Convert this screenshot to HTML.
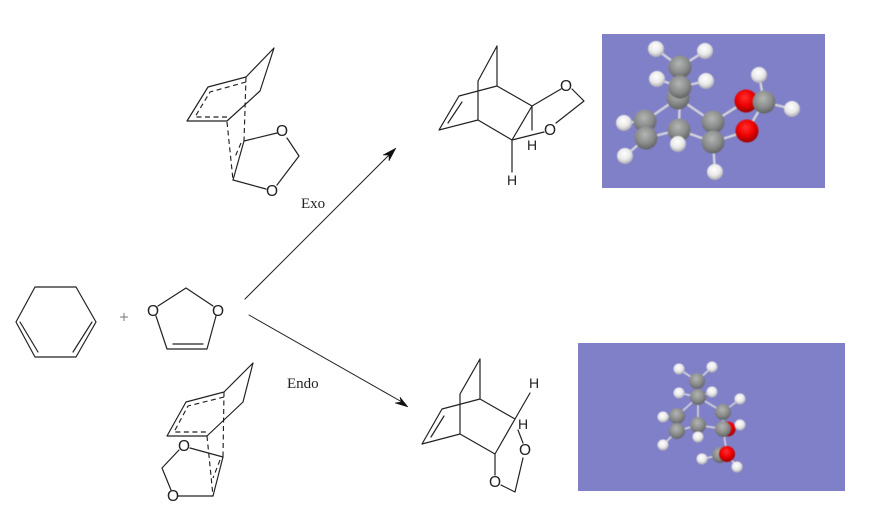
<!DOCTYPE html>
<html><head><meta charset="utf-8"><style>
html,body{margin:0;padding:0;background:#fff;width:871px;height:527px;overflow:hidden}
svg{display:block}
.m{font-family:"Liberation Sans",sans-serif;font-size:15.5px;fill:#222;text-anchor:middle}
.s{font-family:"Liberation Serif",serif;font-size:15px;fill:#222}
.l{stroke:#222;stroke-width:1.2;fill:none;stroke-linecap:round;stroke-linejoin:round}
.d{stroke:#222;stroke-width:1.15;fill:none;stroke-dasharray:5 3.5}
.b{stroke:#d4d4dc;stroke-width:2.4;fill:none}
.b2{stroke:#d4d4dc;stroke-width:1.7;fill:none}
.art{filter:blur(.25px)}
.mol{filter:blur(.5px)}
</style></head><body>
<svg width="871" height="527" viewBox="0 0 871 527" xmlns="http://www.w3.org/2000/svg">
<defs>
<radialGradient id="c" cx="45%" cy="35%" r="65%"><stop offset="0" stop-color="#b4b6b4"/><stop offset=".6" stop-color="#8a8c8c"/><stop offset="1" stop-color="#606264"/></radialGradient>
<radialGradient id="h" cx="45%" cy="35%" r="65%"><stop offset="0" stop-color="#ffffff"/><stop offset=".6" stop-color="#e8e8e8"/><stop offset="1" stop-color="#a9a9b0"/></radialGradient>
<radialGradient id="o" cx="45%" cy="35%" r="65%"><stop offset="0" stop-color="#ff3030"/><stop offset=".55" stop-color="#ee0000"/><stop offset="1" stop-color="#990000"/></radialGradient>
</defs>

<g class="art">
<!-- Reactants -->
<path class="l" d="M35 287H76L96 322L76 357H35L16 322Z M20 322L38 352 M92 322L73 352"/>
<path d="M120 317h8M124 313v8" stroke="#777" stroke-width="1" fill="none"/>
<path class="l" d="M158 306L186 288L213 306 M216 316L207 349H167L156 316 M173 344H203"/>
<text class="m" x="153" y="316">O</text><text class="m" x="218" y="316">O</text>

<!-- Exo TS -->
<path class="l" d="M274 48L246 77L208 87L187 121H227L260 91L274 48 M244 141L277 133 M287 138L299 156L277 185 M233 180L266 189"/>
<path class="l" stroke-width="1.5" d="M244 141L233 180"/>
<path class="d" d="M246 82L210 92L195 117H227 M246 77L244 141 M227 122L233 180 M241 143L235 157"/>
<text class="m" x="282" y="136">O</text><text class="m" x="272" y="196">O</text>

<!-- Endo TS -->
<path class="l" d="M253 363L224 392L186 402L167 436H207L243 402L253 363 M223 457L190 448 M179 450L162 468L171 490 M178 496H213"/>
<path class="l" stroke-width="1.5" d="M223 457L213 496"/>
<path class="d" d="M224 397L188 406L174 432H206 M224 392L223 457 M207 436L213 496 M220 460L213 478"/>
<text class="m" x="184" y="451">O</text><text class="m" x="173" y="501">O</text>

<!-- Arrows -->
<path class="l" style="stroke-width:1" d="M245 299L392 152 M249 315L402 402"/>
<path d="M396 148L383 155L389 155L389 161Z M408 407L395 403L401 402L400 397Z" fill="#111" stroke="#111" stroke-width=".5"/>
<text class="s" x="301" y="208">Exo</text>
<text class="s" x="287" y="388">Endo</text>

<!-- Exo product -->
<path class="l" d="M497 46L478 81V120L439 130L459 96L497 86L532 106L512 140L478 120 M497 46V86 M462 102L448 123 M532 106V130 M512 140V172 M532 106L561 89 M572 89L584 101L556 123 M512 140L544 132"/>
<text class="m" x="566" y="91">O</text><text class="m" x="550" y="135">O</text>
<text class="m" x="532" y="150" style="font-size:14px">H</text><text class="m" x="512" y="185" style="font-size:14px">H</text>

<!-- Endo product -->
<path class="l" d="M480 359L460 394V434L422 444L442 409L480 399L515 419L495 454L460 434 M480 359V399 M444 416L431 437 M515 419L530 393 M495 454L515 419 M495 454V475 M518 430L523 443 M523 458L515 492L501 485"/>
<text class="m" x="534" y="388" style="font-size:14px">H</text><text class="m" x="523" y="429" style="font-size:14px">H</text>
<text class="m" x="495" y="487">O</text><text class="m" x="525" y="455">O</text>
</g>

<!-- Exo 3D -->
<rect x="602" y="34" width="223" height="154" fill="#8080c8"/>
<g class="mol">
<path class="b" d="M656 49L680 67L705 51 M657 79L680 87L706 81 M680 87L679 130 M678 98L645 121 M678 98L713 122 M645 121L646 138 M645 121L624 123 M646 138L625 156 M646 138L679 130L713 142 M679 130L678 144 M713 122L713 142 M713 142L715 172 M713 122L746 101 M713 142L747 131 M746 101L764 102 M747 131L764 102 M764 102L759 75 M764 102L792 109"/>
<g fill="url(#h)"><circle cx="656" cy="49" r="8"/><circle cx="705" cy="51" r="8"/><circle cx="657" cy="79" r="8"/><circle cx="706" cy="81" r="8"/><circle cx="759" cy="75" r="8"/><circle cx="792" cy="109" r="8"/><circle cx="624" cy="123" r="8"/><circle cx="625" cy="156" r="8"/></g>
<g fill="url(#c)"><circle cx="680" cy="67" r="11.5"/><circle cx="678" cy="98" r="11.5"/><circle cx="680" cy="87" r="11.5"/><circle cx="645" cy="121" r="11.5"/><circle cx="646" cy="138" r="11.5"/><circle cx="679" cy="130" r="11.5"/><circle cx="713" cy="122" r="11.5"/><circle cx="713" cy="142" r="11.5"/></g>
<circle cx="746" cy="101" r="11.5" fill="url(#o)"/><circle cx="747" cy="131" r="11.5" fill="url(#o)"/>
<circle cx="764" cy="102" r="11.5" fill="url(#c)"/>
<circle cx="678" cy="144" r="8" fill="url(#h)"/><circle cx="715" cy="172" r="8" fill="url(#h)"/>
</g>

<!-- Endo 3D -->
<rect x="578" y="343" width="267" height="148" fill="#8080c8"/>
<g class="mol">
<path class="b2" d="M679 369L697 381L712 367 M679 393L698 397L712 392 M697 381L698 397 M698 397L698 425 M698 397L677 416 M698 397L723 412 M677 416L677 431 M677 416L663 417 M677 431L663 445 M677 431L698 425L723 429 M698 425L698 437 M723 412L723 429 M723 412L740 399 M723 429L740 425 M723 429L727 454 M720 455L702 459 M727 454L737 467"/>
<g fill="url(#h)"><circle cx="679" cy="369" r="5.5"/><circle cx="712" cy="367" r="5.5"/><circle cx="679" cy="393" r="5.5"/><circle cx="712" cy="392" r="5.5"/><circle cx="740" cy="399" r="5.5"/><circle cx="663" cy="417" r="5.5"/><circle cx="663" cy="445" r="5.5"/></g>
<circle cx="728" cy="429" r="7.5" fill="url(#o)"/>
<g fill="url(#c)"><circle cx="697" cy="381" r="8"/><circle cx="698" cy="397" r="8"/><circle cx="677" cy="416" r="8"/><circle cx="677" cy="431" r="8"/><circle cx="698" cy="425" r="8"/><circle cx="723" cy="412" r="8"/><circle cx="723" cy="429" r="8"/><circle cx="720" cy="455" r="8"/></g>
<circle cx="727" cy="454" r="8" fill="url(#o)"/>
<g fill="url(#h)"><circle cx="698" cy="437" r="5.5"/><circle cx="740" cy="425" r="5.5"/><circle cx="702" cy="459" r="5.5"/><circle cx="737" cy="467" r="5.5"/></g>
</g>
</svg>
</body></html>
